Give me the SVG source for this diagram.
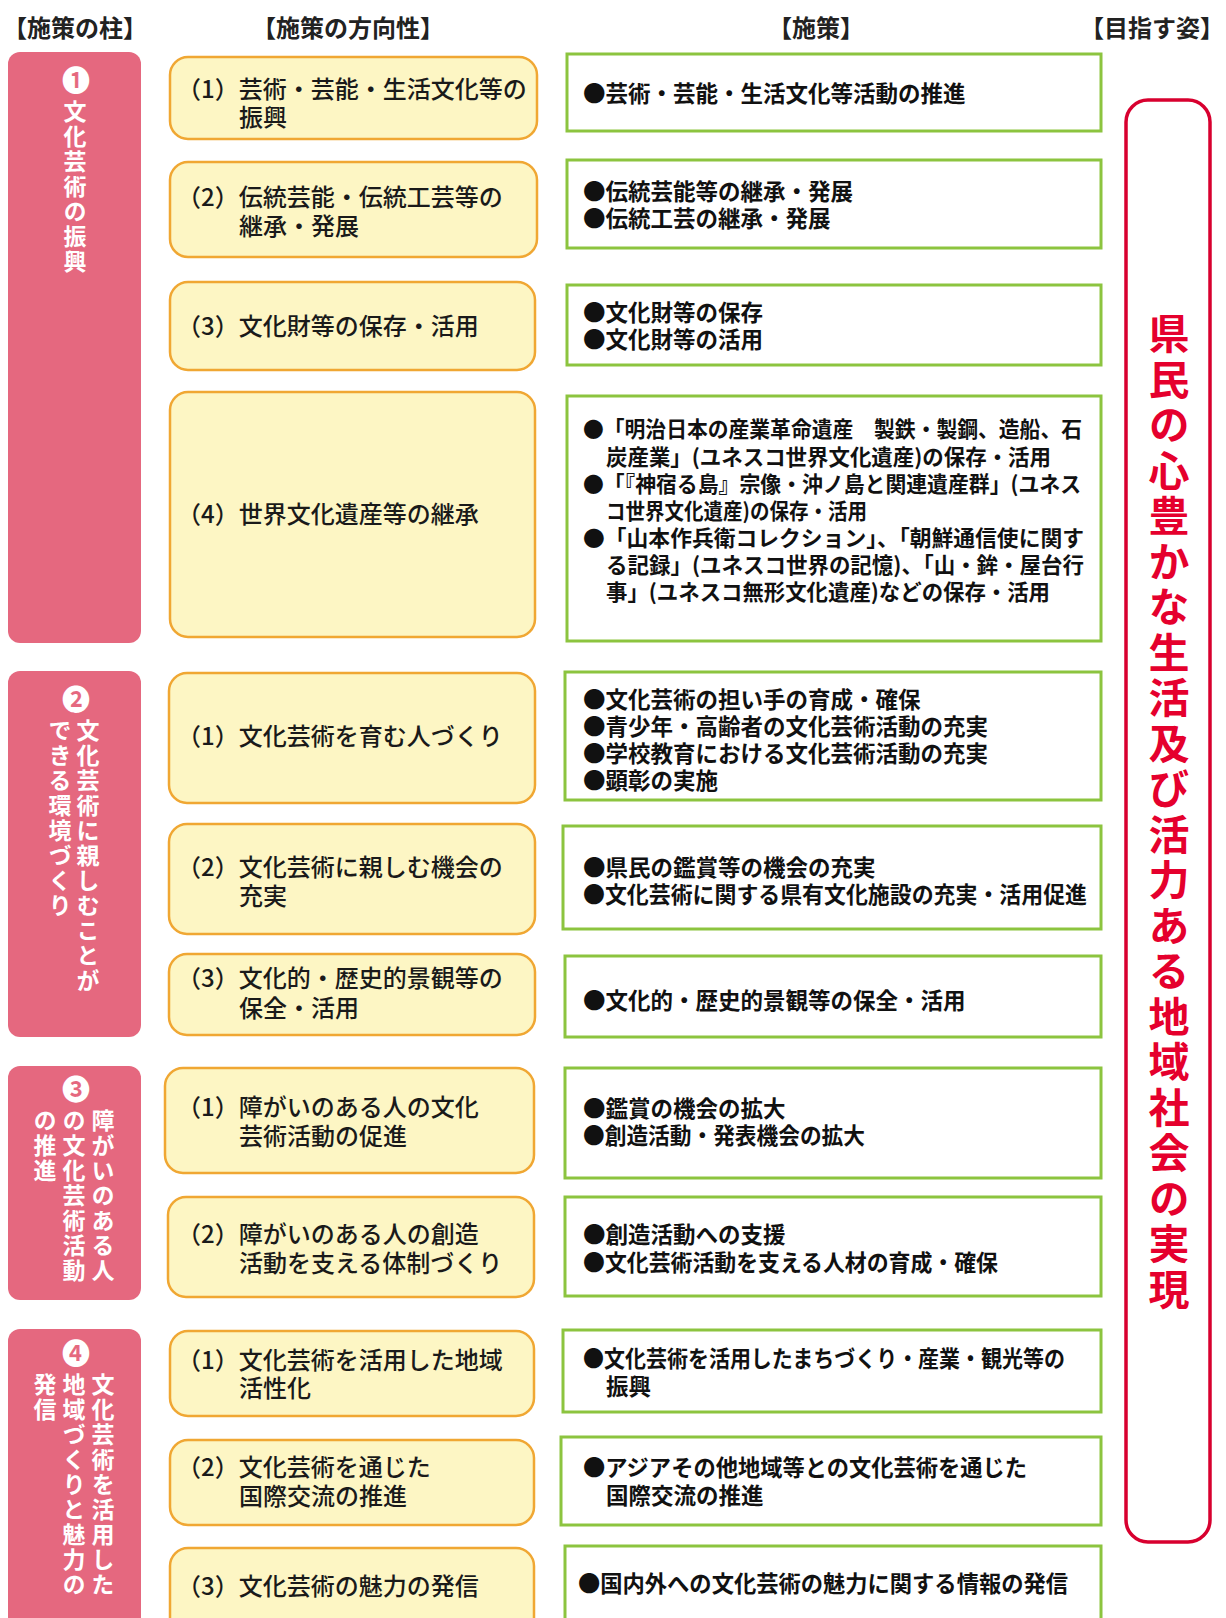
<svg xmlns="http://www.w3.org/2000/svg" width="1226" height="1618" viewBox="0 0 1226 1618">
<style>
text{font-family:"Noto Sans CJK JP","Noto Sans CJK SC",sans-serif;}
.hd{font-size:24px;font-weight:700;fill:#222;text-anchor:middle;dominant-baseline:central;}
.pil{fill:#e5687f;}
.pt{font-size:23px;font-weight:700;fill:#fff;writing-mode:vertical-rl;letter-spacing:2px;}
.num{font-size:28px;font-weight:700;fill:#fff;text-anchor:middle;dominant-baseline:central;}
.yb{fill:#fdf6c4;stroke:#f0a733;stroke-width:2.5;}
.yt{font-size:24px;font-weight:500;fill:#1a1a1a;dominant-baseline:central;}
.gb{fill:#fff;stroke:#8cc43f;stroke-width:3;}
.gt{font-size:22.5px;font-weight:700;fill:#111;dominant-baseline:central;}
.g4{font-size:21.5px;font-weight:700;fill:#111;dominant-baseline:central;}
.rb{fill:#fff;stroke:#d8002f;stroke-width:3.5;}
.rt{font-size:41px;font-weight:700;fill:#e5002d;writing-mode:vertical-rl;letter-spacing:4.5px;}
</style>
<rect width="1226" height="1618" fill="#fff"/>
<g id="headers">
<text class="hd" x="75" y="26">【施策の柱】</text>
<text class="hd" x="348" y="26">【施策の方向性】</text>
<text class="hd" x="816" y="26">【施策】</text>
<text class="hd" x="1152" y="26">【目指す姿】</text>
</g>
<g id="goal">
<rect class="rb" x="1126" y="100" width="84" height="1442" rx="22"/>
<text class="rt" x="1169" y="313">県民の心豊かな生活及び活力ある地域社会の実現</text>
</g>
<g id="pillar1">
<rect class="pil" x="8" y="52" width="133" height="591" rx="12"/>
<text class="num" x="76" y="79">❶</text>
<text class="pt" x="75" y="100">文化芸術の振興</text>
</g>
<g id="pillar2">
<rect class="pil" x="8" y="671" width="133" height="366" rx="12"/>
<text class="num" x="76" y="698">❷</text>
<text class="pt" x="88" y="719">文化芸術に親しむことが</text>
<text class="pt" x="60" y="719">できる環境づくり</text>
</g>
<g id="pillar3">
<rect class="pil" x="8" y="1066" width="133" height="234" rx="12"/>
<text class="num" x="76" y="1088">❸</text>
<text class="pt" x="103" y="1109">障がいのある人</text>
<text class="pt" x="74" y="1109">の文化芸術活動</text>
<text class="pt" x="45" y="1109">の推進</text>
</g>
<g id="pillar4">
<rect class="pil" x="8" y="1329" width="133" height="320" rx="12"/>
<text class="num" x="76" y="1352">❹</text>
<text class="pt" x="103" y="1373">文化芸術を活用した</text>
<text class="pt" x="74" y="1373">地域づくりと魅力の</text>
<text class="pt" x="45" y="1373">発信</text>
</g>
<g id="dir1-1"><rect class="yb" x="170" y="57" width="367" height="82" rx="18"/>
<text class="yt" x="177" y="87">（1）芸術・芸能・生活文化等の<tspan x="239" y="115">振興</tspan></text></g>
<g id="dir1-2"><rect class="yb" x="170" y="162" width="367" height="95" rx="18"/>
<text class="yt" x="177" y="195">（2）伝統芸能・伝統工芸等の<tspan x="239" y="224">継承・発展</tspan></text></g>
<g id="dir1-3"><rect class="yb" x="170" y="282" width="365" height="88" rx="18"/>
<text class="yt" x="177" y="324">（3）文化財等の保存・活用</text></g>
<g id="dir1-4"><rect class="yb" x="170" y="392" width="365" height="245" rx="18"/>
<text class="yt" x="177" y="512">（4）世界文化遺産等の継承</text></g>
<g id="dir2-1"><rect class="yb" x="169" y="673" width="366" height="130" rx="18"/>
<text class="yt" x="177" y="734">（1）文化芸術を育む人づくり</text></g>
<g id="dir2-2"><rect class="yb" x="169" y="824" width="366" height="110" rx="18"/>
<text class="yt" x="177" y="865">（2）文化芸術に親しむ機会の<tspan x="239" y="894">充実</tspan></text></g>
<g id="dir2-3"><rect class="yb" x="169" y="954" width="366" height="81" rx="18"/>
<text class="yt" x="177" y="976">（3）文化的・歴史的景観等の<tspan x="239" y="1006">保全・活用</tspan></text></g>
<g id="dir3-1"><rect class="yb" x="165" y="1068" width="369" height="105" rx="18"/>
<text class="yt" x="177" y="1105">（1）障がいのある人の文化<tspan x="239" y="1134">芸術活動の促進</tspan></text></g>
<g id="dir3-2"><rect class="yb" x="168" y="1197" width="366" height="100" rx="18"/>
<text class="yt" x="177" y="1232">（2）障がいのある人の創造<tspan x="239" y="1261">活動を支える体制づくり</tspan></text></g>
<g id="dir4-1"><rect class="yb" x="170" y="1331" width="364" height="85" rx="18"/>
<text class="yt" x="177" y="1358">（1）文化芸術を活用した地域<tspan x="239" y="1386">活性化</tspan></text></g>
<g id="dir4-2"><rect class="yb" x="170" y="1440" width="364" height="85" rx="18"/>
<text class="yt" x="177" y="1465">（2）文化芸術を通じた<tspan x="239" y="1494">国際交流の推進</tspan></text></g>
<g id="dir4-3"><rect class="yb" x="170" y="1548" width="364" height="95" rx="18"/>
<text class="yt" x="177" y="1584">（3）文化芸術の魅力の発信</text></g>
<g id="m1-1"><rect class="gb" x="567" y="54" width="534" height="77"/>
<text class="gt" x="583" y="92">●芸術・芸能・生活文化等活動の推進</text></g>
<g id="m1-2"><rect class="gb" x="567" y="160" width="534" height="88"/>
<text class="gt" x="583" y="190">●伝統芸能等の継承・発展<tspan x="583" y="217">●伝統工芸の継承・発展</tspan></text></g>
<g id="m1-3"><rect class="gb" x="567" y="285" width="534" height="80"/>
<text class="gt" x="583" y="311">●文化財等の保存<tspan x="583" y="338">●文化財等の活用</tspan></text></g>
<g id="m1-4"><rect class="gb" x="567" y="396" width="534" height="245"/>
<text class="g4" x="583" y="427"><tspan textLength="499" lengthAdjust="spacingAndGlyphs">●「明治日本の産業革命遺産　製鉄・製鋼、造船、石</tspan><tspan x="606" y="454.5" textLength="445" lengthAdjust="spacingAndGlyphs">炭産業」(ユネスコ世界文化遺産)の保存・活用</tspan><tspan x="583" y="482" textLength="498" lengthAdjust="spacingAndGlyphs">●「『神宿る島』宗像・沖ノ島と関連遺産群」(ユネス</tspan><tspan x="606" y="509" textLength="261" lengthAdjust="spacingAndGlyphs">コ世界文化遺産)の保存・活用</tspan><tspan x="583" y="536" textLength="501" lengthAdjust="spacingAndGlyphs">●「山本作兵衛コレクション」、「朝鮮通信使に関す</tspan><tspan x="606" y="563" textLength="478" lengthAdjust="spacingAndGlyphs">る記録」(ユネスコ世界の記憶)、「山・鉾・屋台行</tspan><tspan x="606" y="590" textLength="444" lengthAdjust="spacingAndGlyphs">事」(ユネスコ無形文化遺産)などの保存・活用</tspan></text></g>
<g id="m2-1"><rect class="gb" x="565" y="672" width="536" height="128"/>
<text class="gt" x="583" y="698">●文化芸術の担い手の育成・確保<tspan x="583" y="725">●青少年・高齢者の文化芸術活動の充実</tspan><tspan x="583" y="752">●学校教育における文化芸術活動の充実</tspan><tspan x="583" y="779">●顕彰の実施</tspan></text></g>
<g id="m2-2"><rect class="gb" x="563" y="826" width="538" height="103"/>
<text class="gt" x="583" y="866">●県民の鑑賞等の機会の充実<tspan x="583" y="893" textLength="504" lengthAdjust="spacingAndGlyphs">●文化芸術に関する県有文化施設の充実・活用促進</tspan></text></g>
<g id="m2-3"><rect class="gb" x="565" y="956" width="536" height="81"/>
<text class="gt" x="583" y="999">●文化的・歴史的景観等の保全・活用</text></g>
<g id="m3-1"><rect class="gb" x="565" y="1068" width="536" height="110"/>
<text class="gt" x="583" y="1107">●鑑賞の機会の拡大<tspan x="583" y="1134" textLength="282" lengthAdjust="spacingAndGlyphs">●創造活動・発表機会の拡大</tspan></text></g>
<g id="m3-2"><rect class="gb" x="565" y="1197" width="536" height="99"/>
<text class="gt" x="583" y="1233">●創造活動への支援<tspan x="583" y="1261" textLength="415" lengthAdjust="spacingAndGlyphs">●文化芸術活動を支える人材の育成・確保</tspan></text></g>
<g id="m4-1"><rect class="gb" x="563" y="1330" width="538" height="82"/>
<text class="gt" x="583" y="1357"><tspan textLength="482" lengthAdjust="spacingAndGlyphs">●文化芸術を活用したまちづくり・産業・観光等の</tspan><tspan x="606" y="1385">振興</tspan></text></g>
<g id="m4-2"><rect class="gb" x="561" y="1437" width="540" height="88"/>
<text class="gt" x="583" y="1466"><tspan textLength="444" lengthAdjust="spacingAndGlyphs">●アジアその他地域等との文化芸術を通じた</tspan><tspan x="606" y="1494">国際交流の推進</tspan></text></g>
<g id="m4-3"><rect class="gb" x="565" y="1546" width="536" height="100"/>
<text class="gt" x="578" y="1582" textLength="490" lengthAdjust="spacingAndGlyphs">●国内外への文化芸術の魅力に関する情報の発信</text></g>
</svg>
